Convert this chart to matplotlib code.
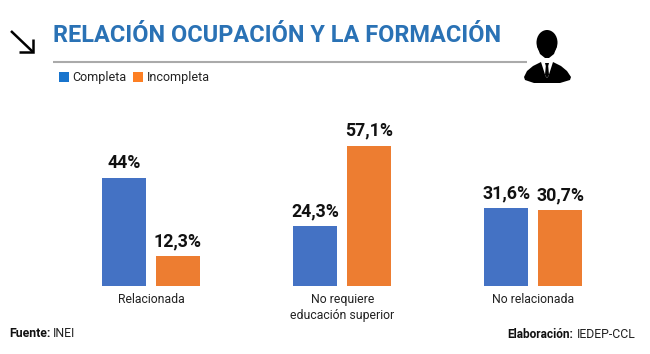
import numpy as np
import matplotlib
matplotlib.use("Agg")
import matplotlib.pyplot as plt
from matplotlib.patches import Polygon, Rectangle, Ellipse

plt.rcParams['font.family'] = ['Roboto', 'DejaVu Sans']

W, H = 650, 354

categories = ["Relacionada", "No requiere\neducación superior", "No relacionada"]
completa = [44, 24.3, 31.6]
incompleta = [12.3, 57.1, 30.7]
labels_completa = ["44%", "24,3%", "31,6%"]
labels_incompleta = ["12,3%", "57,1%", "30,7%"]
series_names = ["Completa", "Incompleta"]
title = "RELACIÓN OCUPACIÓN Y LA FORMACIÓN"

fig = plt.figure(figsize=(W / 100, H / 100), dpi=100, facecolor="white")

# overlay in pixel coords for the decoration
bg = fig.add_axes([0, 0, 1, 1])
bg.set_xlim(0, W)
bg.set_ylim(H, 0)
bg.axis("off")

# chart axes, baseline at y=286
px_unit = 191.25
left = 151 - 0.79 * px_unit
right = 533.5 + 0.79 * px_unit
base = 286
top = 100
ax = fig.add_axes([left / W, (H - base) / H, (right - left) / W, (base - top) / H])
ax.set_xlim(-0.79, 2.79)
ax.set_ylim(0, (base - top) / 2.46)
ax.patch.set_alpha(0)

x = np.arange(len(categories))
bw = 44 / px_unit
off = 27 / px_unit
bars1 = ax.bar(x - off, completa, bw, color="#4472c4")
bars2 = ax.bar(x + off, incompleta, bw, color="#ed7d31")

for bars, labs in ((bars1, labels_completa), (bars2, labels_incompleta)):
    for b, lab in zip(bars, labs):
        ax.text(b.get_x() + b.get_width() / 2, b.get_height() + 2.3, lab, ha="center", va="bottom",
                fontsize=12.8, fontweight="bold", color="#111111")

ax.set_xticks(x)
ax.set_xticklabels(categories, fontsize=8.8, color="#222222", linespacing=1.3)
ax.tick_params(axis="x", length=0, pad=5)
ax.set_yticks([])
for s in ax.spines.values():
    s.set_visible(False)

# title + rule
bg.text(53, 36, title, fontsize=16.9, fontweight="bold", color="#2a72b5", va="center", ha="left")
bg.plot([53, 527], [62, 62], color="#aaaaaa", lw=1.5, solid_capstyle="butt")

# arrow
bg.plot([11, 33], [31, 52], color="black", lw=1.8, solid_capstyle="butt")
bg.plot([33, 33, 19], [39, 52, 52], color="black", lw=1.8, solid_joinstyle="miter", solid_capstyle="butt")

# legend
bg.add_patch(Rectangle((59, 72), 10, 10, color="#1874cd", lw=0))
bg.text(72, 77.5, series_names[0], fontsize=9, va="center", color="#222222")
bg.add_patch(Rectangle((133, 72), 10, 10, color="#fd7f23", lw=0))
bg.text(147, 77.5, series_names[1], fontsize=9, va="center", color="#222222")

# person icon
bg.add_patch(Ellipse((547, 42.5), 21, 25, color="black", lw=0))
bg.add_patch(Polygon([(537, 46), (557, 46), (554, 54), (549, 58), (545, 58), (540, 54)], color="black", lw=0))
bg.add_patch(Polygon([(524, 77), (527, 71), (533, 66), (541, 62), (553, 62), (561, 66), (567, 71),
                      (571, 77), (570, 80), (560, 83), (534, 83), (525, 80)], color="black", lw=0))
bg.add_patch(Polygon([(541, 62), (553, 62), (548.5, 76), (547, 78), (545.5, 76)], color="white", lw=0))
bg.add_patch(Polygon([(545, 63), (549, 63), (548.2, 66), (549, 75), (547, 78), (545, 75), (545.8, 66)],
                     color="black", lw=0))

# footer
bg.text(9, 333.5, "Fuente:", fontsize=8.8, fontweight="bold", va="center", color="#111111")
bg.text(53, 333.5, "INEI", fontsize=8.8, va="center", color="#222222")
bg.text(507, 334.5, "Elaboración:", fontsize=8.6, fontweight="bold", va="center", color="#111111")
bg.text(577, 334.5, "IEDEP-CCL", fontsize=8.8, va="center", color="#222222")

fig.savefig("out.png", dpi=100)
